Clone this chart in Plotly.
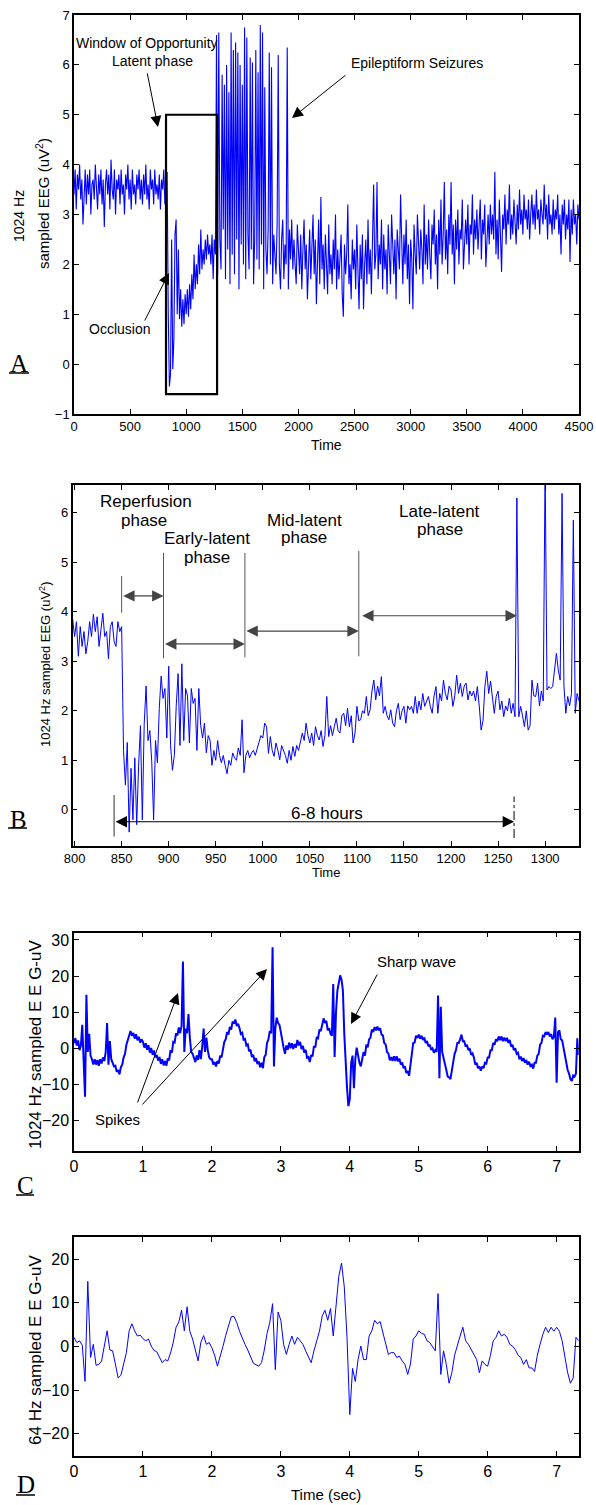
import plotly.graph_objects as go

W, H = 596, 1505
SANS = "Liberation Sans, Arial, Helvetica, sans-serif"
SERIF = "Liberation Serif, Times New Roman, serif"

# ---------------- Panel A : 1024 Hz EEG power over time (dt = 10) ----------------
a_t0, a_dt = 0, 10
a_eeg = [
    3.4, 3.9, 3.1, 3.8, 3.5, 4.0, 3.3, 3.7, 2.8, 3.6,
    3.9, 3.2, 3.8, 3.4, 3.9, 3.0, 3.6, 3.7, 3.3, 4.0,
    3.5, 3.1, 3.8, 3.4, 3.9, 3.2, 3.7, 2.75, 3.6, 3.9,
    3.4, 3.8, 3.1, 4.1, 3.5, 3.3, 3.9, 3.0, 3.7, 3.5,
    3.8, 3.2, 3.9, 3.4, 3.6, 3.0, 3.8, 3.5, 4.0, 3.3,
    3.7, 3.1, 3.9, 3.4, 3.6, 3.2, 3.8, 3.5, 3.9, 3.3,
    3.7, 3.2, 3.8, 3.4, 4.0, 3.3, 3.6, 3.1, 3.9, 3.5,
    3.7, 3.2, 3.9, 3.4, 3.6, 3.3, 3.8, 3.1, 3.7, 3.5,
    3.9, 3.2, 3.6, 3.85, 1.0, -0.45, -0.2, 2.5, -0.1, 0.5,
    2.6, 2.9, 1.0, 2.3, 0.9, 1.5, 0.75, 1.3, 0.8, 1.4,
    1.0, 1.5, 0.95, 1.6, 1.1, 1.8, 1.3, 2.2, 1.5, 2.0,
    1.6, 2.4, 1.8, 2.7, 1.9, 2.3, 2.0, 2.5, 2.1, 2.6,
    2.2, 2.4, 2.0, 2.6, 1.7, 2.5, 2.2, 6.6, 1.8, 6.65,
    2.5, 1.9, 5.8, 2.7, 5.6, 1.7, 6.0, 2.3, 5.45, 1.6,
    6.65, 2.2, 6.3, 1.8, 6.45, 2.5, 6.25, 1.5, 6.0, 2.4,
    5.6, 2.0, 6.75, 1.7, 6.55, 2.6, 1.9, 6.15, 2.3, 6.05,
    1.6, 2.5, 6.3, 2.1, 5.85, 1.9, 6.8, 2.4, 6.65, 1.5,
    5.55, 2.3, 1.8, 2.7, 6.25, 2.0, 5.95, 1.6, 2.6, 2.1,
    1.8, 2.8, 6.2, 2.0, 1.5, 2.5, 2.9, 1.7, 2.4, 2.0,
    6.35, 1.5, 2.7, 2.1, 2.9, 1.9, 2.5, 2.0, 1.6, 2.8,
    2.2, 1.8, 2.6, 1.5, 2.3, 2.9, 1.9, 2.4, 1.3, 2.1,
    2.7, 1.7, 2.3, 3.0, 1.8, 2.5, 1.2, 2.2, 2.9, 1.6,
    3.35, 1.9, 2.4, 1.5, 2.6, 2.0, 1.4, 2.8, 1.8, 2.2,
    1.6, 2.5, 1.9, 3.0, 1.5, 2.3, 1.7, 2.1, 2.6, 1.4,
    0.95, 2.4, 1.8, 2.2, 3.2, 1.6, 2.0, 1.3, 2.5, 1.9,
    2.3, 1.5, 2.8, 1.9, 1.1, 2.4, 1.7, 2.6, 1.1, 2.0,
    2.5, 1.6, 2.9, 1.8, 2.3, 1.4, 2.7, 3.6, 1.9, 2.2,
    3.65, 1.7, 2.4, 2.0, 2.9, 1.5, 2.6, 1.9, 2.3, 1.4,
    2.8, 2.0, 1.6, 3.0, 2.2, 1.8, 2.5, 1.3, 2.7, 2.1,
    1.9, 3.4, 2.3, 1.6, 2.6, 2.0, 2.9, 1.7, 2.4, 1.2,
    2.5, 2.1, 1.1, 2.8, 2.2, 1.8, 3.0, 2.4, 1.9, 2.7,
    2.3, 1.6, 3.2, 2.0, 2.6, 1.9, 2.9, 2.2, 1.7, 2.8,
    2.4, 3.1, 2.0, 2.6, 1.5, 2.9, 2.2, 3.3, 2.0, 2.6,
    3.65, 2.1, 2.7, 1.8, 3.0, 2.4, 3.65, 2.2, 2.8, 1.6,
    2.9, 2.3, 3.1, 2.0, 2.7, 2.5, 3.3, 1.9, 2.6, 2.9,
    2.4, 3.2, 2.0, 2.8, 2.6, 3.4, 2.2, 2.9, 2.5, 3.1,
    2.3, 2.8, 3.3, 2.1, 2.9, 2.6, 3.2, 1.95, 2.7, 3.0,
    2.4, 3.2, 2.6, 3.0, 2.5, 3.85, 2.2, 2.9, 2.1, 3.3,
    2.6, 1.85, 3.0, 2.7, 3.4, 2.4, 3.1, 2.8, 3.6, 2.5,
    3.0, 2.6, 3.3, 2.9, 2.4, 3.2, 2.7, 3.5, 2.8, 3.1,
    2.6, 3.4, 2.9, 3.1, 2.7, 3.3, 2.5, 3.0, 3.4, 2.8,
    3.2, 2.7, 3.5, 2.9, 3.1, 2.6, 3.3, 3.0, 2.8, 3.6,
    2.9, 3.2, 2.5, 3.4, 2.8, 3.0, 2.6, 3.3, 2.7, 3.1,
    2.9, 3.4, 2.6, 3.0, 2.2, 3.2, 2.8, 3.3, 2.5, 3.0,
    2.7, 3.3, 2.05, 3.1, 2.6, 3.3, 2.8, 3.0, 2.4, 3.2,
    2.9,
]
a_xticks = [0, 500, 1000, 1500, 2000, 2500, 3000, 3500, 4000, 4500]
a_yticks = [-1, 0, 1, 2, 3, 4, 5, 6, 7]

# ---------------- Panel B : zoom 800-1336 (dt = 2) ----------------
b_t0, b_dt = 798, 2
b_eeg = [
    3.85, 3.5, 3.8, 3.1, 3.7, 3.3, 3.6, 3.15, 3.4, 3.8,
    3.5, 3.95, 3.6, 3.9, 3.3, 3.7, 3.97, 3.5, 3.6, 3.05,
    3.7, 3.8, 3.4, 3.3, 3.8, 3.6, 3.7, 1.2, 0.5, 1.36,
    -0.45, 0.84, -0.2, 1.05, -0.3, 0.88, 1.7, -0.2, 1.75, 2.5,
    1.4, 1.6, 0.97, -0.2, 1.4, 0.95, 2.05, 2.7, 2.25, 2.45,
    1.45, 2.9, 1.3, 0.8, 1.1, 2.1, 2.75, 1.3, 2.95, 1.4,
    2.45, 2.3, 1.35, 2.45, 2.15, 2.25, 1.2, 2.45, 1.7, 1.45,
    1.75, 1.15, 1.5, 1.4, 0.9, 1.2, 1.0, 1.4, 1.1, 0.95,
    1.1, 0.9, 0.73, 1.0, 0.9, 1.15, 1.05, 1.0, 1.25, 1.1,
    1.82, 0.75, 1.1, 1.2, 1.05, 1.15, 1.2, 1.1, 1.25, 1.35,
    1.5, 1.45, 1.75, 1.68, 1.14, 1.48, 1.2, 1.08, 1.35, 1.2,
    1.01, 1.3, 1.21, 1.1, 0.94, 1.2, 1.0, 1.28, 1.08, 1.3,
    1.2, 1.35, 1.55, 1.4, 1.75, 1.5, 1.35, 1.55, 1.3, 1.68,
    1.5, 1.41, 1.6, 1.28, 1.5, 2.29, 1.48, 1.7, 1.5, 1.68,
    1.85, 1.6, 1.55, 1.9, 1.95, 1.7, 2.05, 1.68, 1.9, 1.35,
    1.55, 2.09, 1.8, 1.82, 2.0, 1.95, 2.29, 1.9, 2.02, 2.4,
    2.62, 2.22, 2.5, 2.3, 2.69, 1.95, 2.09, 1.9, 1.82, 2.02,
    1.75, 1.68, 2.0, 2.15, 1.82, 2.0, 2.09, 1.75, 2.1, 2.02,
    2.09, 1.95, 2.29, 1.95, 2.2, 2.02, 2.35, 2.09, 2.2, 2.29,
    2.09, 1.95, 2.3, 2.49, 1.95, 2.35, 2.2, 2.62, 2.35, 2.22,
    2.5, 2.42, 2.09, 2.3, 2.72, 2.35, 2.56, 2.29, 2.5, 2.56,
    2.22, 2.4, 2.3, 2.4, 2.2, 2.49, 2.1, 1.61, 1.8, 2.49,
    2.8, 2.35, 2.6, 2.2, 1.95, 2.29, 2.4, 2.02, 2.2, 1.88,
    2.1, 2.0, 2.25, 1.95, 2.15, 1.88, 6.3, 1.88, 2.09, 1.9,
    1.68, 2.0, 1.61, 1.7, 2.62, 2.3, 2.29, 2.56, 2.1, 2.4,
    2.2, 7.0, 2.42, 2.49, 2.45, 2.49, 2.8, 3.16, 2.82, 2.62,
    6.39, 2.5, 1.95, 2.29, 2.1, 2.35, 5.85, 1.95, 2.35, 2.2,
]
b_xticks = [800, 850, 900, 950, 1000, 1050, 1100, 1150, 1200, 1250, 1300]
b_yticks = [0, 1, 2, 3, 4, 5, 6]
b_phase_bounds = [850, 894.5, 981, 1102, 1270]
b_span = [842, 1267]

# ---------------- Panel C : 1024 Hz EEG (dt = 0.02 s) ----------------
c_t0, c_dt = 0.0, 0.02
c_eeg = [
    1.5, 2.8, 0.8, 2.2, -0.5, 0.8, 6.5, -1.5, -13.4, 14.8,
    -1, 4, -2, -3, -4.5, -3, -4.5, -3.2, -4.8, -3,
    -4.2, -2.5, -3.5, -1, 7, -4.5, 2, -3, -4, -5,
    -4.8, -6.5, -6, -7.2, -5.2, -4.5, -2.5, -1.5, 1, 2.5,
    3.2, 4.8, 3.5, 4.3, 2.7, 3.9, 2.2, 3.2, 1.6, 2.5,
    1.8, 0.2, 1.4, -0.4, 0.9, -1.2, 0.1, -1.8, -0.6, -2.5,
    -1.8, -3.4, -2.4, -4.3, -3, -4.7, -3.5, -4.8, -2.8, -3.3,
    -0.5, -1.2, 1.8, 1.6, 4.2, 3.6, 5.8, 4.2, 6.2, 24,
    -1, 5.5, 4.2, 9.5, 3, -1, -1.5, -3, -3.8, -2,
    -3.2, -0.5, -3, 0.5, 5.5, -1, 3, -0.5, -2.5, -3,
    -3, -4.5, -3.8, -5, -3.5, -4.2, -2, -2.5, -0.2, 1.8,
    2.5, 4.5, 3.8, 5.9, 5.2, 7.4, 6.8, 8, 6.2, 6.8,
    5.6, 4, 4.3, 2.4, 2.6, 0.8, 1.1, -0.8, -0.4, -2.4,
    -1.8, -3.6, -2.7, -4.3, -3.6, -5.2, -4, -5.5, -2.4, -1.8,
    1.5, 2.5, 4.8, 4.2, 28, -5, 5.5, 8.5, 7, 6.5,
    4.5, 1.6, 0.2, -1.5, 0.8, -0.4, 1.6, 0, 1.4, -0.2,
    1.2, 0.2, 2.3, 0.8, 1.8, -0.2, 0.7, -1.2, -0.4, -2.6,
    -2.4, -3.8, -1.8, -2.2, 0.6, 0.3, 3.1, 2.8, 5.2, 4.8,
    6.5, 8.3, 7, 7.6, 5, 5.6, 4, 3.5, 17.8, -2.4,
    10, 16, 18, 20.2, 19, 16, 4, -5, -11, -16,
    -14, -4, -2, -11, -3, 0.2, -2, -4, -5, -3,
    -1, -2, 1, 0.3, 2.5, 3, 5.2, 4.5, 5.9, 5,
    6, 5, 5.6, 3.8, 3.6, 1.5, 1.1, -1, -1.4, -3.3,
    -2.4, -3.5, -2.2, -3.5, -2.2, -3.6, -2.9, -4.5, -3.9, -5.5,
    -5, -6.8, -6.3, -7.6, -4.5, -2.2, 1.5, 1.6, 3.5, 2.9,
    3.8, 2.7, 3.5, 2.3, 3, 1.5, 2, 0.6, 1, -0.4,
    0, -1.2, -0.5, -1, 14.6, -8.3, 11.5, -1, -3, -4.5,
    -6, -7.8, -8, -8.5, -5.5, -3.8, -1.5, -0.5, 1.5, 1.5,
    2.5, 3.8, 2, 2, 0.5, 1, -0.5, 0, -1.8, -1.4,
    -2.5, -4.5, -4, -5.5, -5, -6.2, -5, -5.5, -4, -4.2,
    -2.5, -2.5, -0.5, -0.5, 1.5, 1, 2.5, 2, 3.3, 2.3,
    3.3, 2, 3, 2, 2.9, 1.5, 2.3, 0.5, 1, -0.5,
    0, -1.5, -1.2, -3, -2.3, -3.5, -2.7, -4, -3.2, -4.5,
    -3.7, -4.9, -4.5, -5.6, -4, -4, -2, -1.5, 1, 1.5,
    3.5, 3.3, 4.5, 3.8, 4.5, 3.3, 4, 2.5, 3.2, 8.5,
    -9.5, 4.5, 5, 2.5, 2.2, 0, -2, -4, -6, -7,
    -8.5, -9, -7.5, -7.8, -7, 2.8, -1.8,
]
c_xticks = [0, 1, 2, 3, 4, 5, 6, 7]
c_yticks = [-20, -10, 0, 10, 20, 30]

# ---------------- Panel D : 64 Hz EEG (dt = 0.04 s) ----------------
d_t0, d_dt = 0.0, 0.04
d_eeg = [
    2.1, 0.9, 1.3, 0.3, -8, 14.9, -2.5, 0.5, -4.3, -4.1,
    -3.3, -0.2, 3.6, -0.8, -1, -4, -7.2, -6.6, -4.1, -1.4,
    3.6, 5.2, 3.6, 2.4, 2.6, 1.8, 1.3, 1.7, 0.1, -0.9,
    -1.2, -2.5, -3.7, -3, -3.3, -1.5, 1, 4.4, 5.6, 8.3,
    3.6, 9.1, 3.5, 1.7, -1, -3.3, 1, 2.5, 0.5, 0.9,
    -0.3, -2, -4.5, -2.5, 0, 2.5, 4.4, 6.8, 6.9, 5.5,
    3.5, 1.8, 0.5, -0.8, -2.5, -3.8, -4.2, -4.5, -3.7, -0.8,
    3, 5.5, 9.8, -5.3, 7.9, 6, 0.5, -1.8, 0.5, 2.4,
    0.5, 2.1, 1.3, 0.5, -1, -2.5, -3.7, -1, 1.5, 3.5,
    7, 8.3, 6, 8.7, 2.4, 9.4, 16, 19.1, 13.7, 2,
    -15.6, -5, -8, -3, 0.1, -3, -3, 2.4, 3.6, 6,
    5.2, 5.7, 3.2, 0.5, -1.8, -1.4, -1.4, -2.5, -2.2, -3.3,
    -4.1, -6.4, -4, 1.7, 2.4, 3.6, 3, 2.8, 1.3, 0.9,
    0, -1, 12.1, -6.4, -1, -4.1, -8.4, -6, -2, 0.5,
    2.4, 4.4, 1.3, 0.5, -0.7, -1.8, -3, -6, -3.3, -4.1,
    -4.5, -2, 1.3, 2.1, 3.6, 2.4, 2.8, 2.1, 0.5, 0.1,
    -0.7, -2, -2.5, -4.1, -3, -4.9, -4.9, -5.7, -2, 0.5,
    2.8, 4.4, 3.2, 4.4, 3.5, 4.4, 3.5, 1.3, -2.5, -6,
    -8.4, -7.2, 2.1, 1.3,
]
d_xticks = [0, 1, 2, 3, 4, 5, 6, 7]
d_yticks = [-20, -10, 0, 10, 20]


def dom_x(x0, x1):
    return [x0 / W, x1 / W]


def dom_y(top, bottom):
    return [1 - bottom / H, 1 - top / H]


fig = go.Figure()
fig.add_trace(go.Scatter(y=a_eeg, x0=a_t0, dx=a_dt, mode="lines", line=dict(color="#0000FF", width=1.1),
                         xaxis="x", yaxis="y", showlegend=False))
fig.add_trace(go.Scatter(y=b_eeg, x0=b_t0, dx=b_dt, mode="lines", line=dict(color="#0000FF", width=1),
                         xaxis="x2", yaxis="y2", showlegend=False))
fig.add_trace(go.Scatter(y=c_eeg, x0=c_t0, dx=c_dt, mode="lines", line=dict(color="#0000FF", width=2),
                         xaxis="x3", yaxis="y3", showlegend=False))
fig.add_trace(go.Scatter(y=d_eeg, x0=d_t0, dx=d_dt, mode="lines", line=dict(color="#0000FF", width=1),
                         xaxis="x4", yaxis="y4", showlegend=False))


def ax_style(size, family=SANS):
    return dict(showline=True, linecolor="black", linewidth=1.5, mirror="ticks",
                ticks="inside", ticklen=5, tickwidth=1, tickcolor="black",
                showgrid=False, zeroline=False, automargin=False,
                tickfont=dict(family=family, size=size, color="black"))


fig.update_layout(
    width=W, height=H, autosize=False,
    margin=dict(l=0, r=0, t=0, b=0, pad=0, autoexpand=False),
    paper_bgcolor="white", plot_bgcolor="white",
    xaxis=dict(domain=dom_x(74, 579), range=[0, 4500], tickvals=a_xticks, anchor="y", **ax_style(13)),
    yaxis=dict(domain=dom_y(15, 414), range=[-1, 7], tickvals=a_yticks, anchor="x", **ax_style(13)),
    xaxis2=dict(domain=dom_x(72.7, 579), range=[798, 1336], tickvals=b_xticks, anchor="y2", **ax_style(13)),
    yaxis2=dict(domain=dom_y(485, 846), range=[-0.73, 6.56], tickvals=b_yticks, anchor="x2", **ax_style(13)),
    xaxis3=dict(domain=dom_x(74, 578.7), range=[0, 7.32], tickvals=c_xticks, anchor="y3", **ax_style(16)),
    yaxis3=dict(domain=dom_y(932.7, 1151), range=[-28.4, 32], tickvals=c_yticks, anchor="x3", **ax_style(16)),
    xaxis4=dict(domain=dom_x(74, 578.7), range=[0, 7.32], tickvals=d_xticks, anchor="y4", **ax_style(16)),
    yaxis4=dict(domain=dom_y(1237.3, 1455.7), range=[-25, 25], tickvals=d_yticks, anchor="x4", **ax_style(16)),
)


def txt(x, y, s, size, family=SANS, angle=0):
    return dict(x=x / W, y=1 - y / H, xref="paper", yref="paper", text=s, showarrow=False,
                font=dict(family=family, size=size, color="black"), textangle=angle,
                xanchor="center", yanchor="middle")


def arrow(tail, tip, size=2.2, width=1, color="black"):
    return dict(x=tip[0] / W, y=1 - tip[1] / H, xref="paper", yref="paper",
                ax=tail[0] - tip[0], ay=tail[1] - tip[1], axref="pixel", ayref="pixel",
                text="", showarrow=True, arrowhead=2, arrowsize=size, arrowwidth=width,
                arrowcolor=color, standoff=0)


def darrow(xa, xb, y, axis, color="#444444", size=1.9):
    return dict(x=xb, y=y, xref="x" + axis, yref="y" + axis,
                ax=xa, ay=y, axref="x" + axis, ayref="y" + axis,
                text="", showarrow=True, arrowhead=2, startarrowhead=2,
                arrowside="end+start", arrowsize=size, startarrowsize=size,
                arrowwidth=1.2, arrowcolor=color, standoff=0, startstandoff=0)


ann = []
# axis titles
ann.append(txt(19, 216, "1024 Hz", 14, angle=-90))
ann.append(txt(42, 204, "sampled EEG (uV<sup>2</sup>)", 15, angle=-90))
ann.append(txt(326, 445, "Time", 14))
ann.append(txt(45, 665, "1024 Hz sampled EEG (uV<sup>2</sup>)", 13, angle=-90))
ann.append(txt(326, 873, "Time", 13))
ann.append(txt(35, 1045, "1024 Hz sampled E E G-uV", 17, angle=-90))
ann.append(txt(35, 1350, "64 Hz sampled E E G-uV", 17, angle=-90))
ann.append(txt(326, 1494, "Time (sec)", 15))
# panel letters (underlines drawn as shapes below)
letters = [("A", 19, 364, 9, 29, 373), ("B", 18, 819, 8, 27, 828),
           ("C", 25, 1185, 16, 34, 1195), ("D", 26, 1484, 16, 35, 1495)]
for s, lx, ly, u0, u1, uy in letters:
    ann.append(txt(lx, ly, s, 25, family=SERIF))
# panel A
ann.append(txt(147, 43, "Window of Opportunity", 14))
ann.append(txt(152, 61, "Latent phase", 14))
ann.append(arrow((147, 72), (158, 127)))
ann.append(txt(119, 329, "Occlusion", 14))
ann.append(arrow((144, 322), (169, 273)))
ann.append(txt(417, 63, "Epileptiform Seizures", 14))
ann.append(arrow((347, 74), (292, 118)))
# panel B
ann.append(txt(146, 502, "Reperfusion", 17))
ann.append(txt(144, 520, "phase", 17))
ann.append(txt(207, 539, "Early-latent", 17))
ann.append(txt(207, 557, "phase", 17))
ann.append(txt(304, 520, "Mid-latent", 17))
ann.append(txt(304, 538, "phase", 17))
ann.append(txt(439, 511, "Late-latent", 17))
ann.append(txt(440, 529, "phase", 17))
ann.append(txt(327, 813, "6-8 hours", 17))
p = b_phase_bounds
ann.append(darrow(p[0], p[1], 4.32, "2"))
ann.append(darrow(p[1], p[2], 3.35, "2"))
ann.append(darrow(p[2], p[3], 3.61, "2"))
ann.append(darrow(p[3] + 2, p[4], 3.92, "2"))
ann.append(darrow(b_span[0], b_span[1], -0.24, "2", color="black"))
# panel C
ann.append(txt(117, 1119, "Spikes", 15))
ann.append(arrow((137, 1104), (178, 993)))
ann.append(arrow((141, 1106), (267, 969)))
ann.append(txt(416, 961, "Sharp wave", 15))
ann.append(arrow((378, 973), (351, 1024)))

fig.update_layout(annotations=ann)

shapes = [
    dict(type="rect", xref="x", yref="y", x0=820, x1=1275, y0=-0.6, y1=5.0,
         line=dict(color="black", width=2.2)),
    dict(type="line", xref="x2", yref="y2", x0=p[0], x1=p[0], y0=3.98, y1=4.72, line=dict(color="#555555", width=1)),
    dict(type="line", xref="x2", yref="y2", x0=p[1], x1=p[1], y0=3.06, y1=5.19, line=dict(color="#555555", width=1)),
    dict(type="line", xref="x2", yref="y2", x0=p[2], x1=p[2], y0=3.08, y1=5.19, line=dict(color="#555555", width=1)),
    dict(type="line", xref="x2", yref="y2", x0=p[3], x1=p[3], y0=3.1, y1=5.23, line=dict(color="#555555", width=1)),
    dict(type="line", xref="x2", yref="y2", x0=b_span[0], x1=b_span[0], y0=-0.54, y1=0.30, line=dict(color="#555555", width=1.2)),
    dict(type="line", xref="x2", yref="y2", x0=b_span[1], x1=b_span[1], y0=-0.57, y1=0.27, line=dict(color="black", width=1, dash="dashdot")),
]
for s, lx, ly, u0, u1, uy in letters:
    shapes.append(dict(type="line", xref="paper", yref="paper", x0=u0 / W, x1=u1 / W,
                       y0=1 - uy / H, y1=1 - uy / H, line=dict(color="black", width=1.5)))
fig.update_layout(shapes=shapes)

fig.write_html("out.html", config={"displayModeBar": False},
               post_script="document.body.style.margin='0px';")
